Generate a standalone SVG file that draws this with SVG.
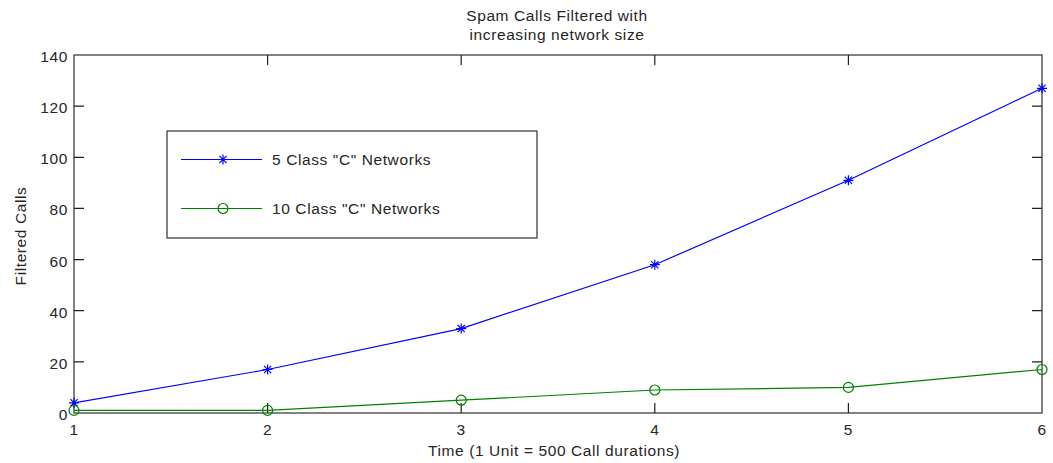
<svg xmlns="http://www.w3.org/2000/svg" width="1053" height="463" viewBox="0 0 1053 463">
  <style>
    text { font-family: "Liberation Sans", Arial, sans-serif; font-size: 15.5px; letter-spacing: 0.6px; fill: #262626; }
    .axis { fill: none; stroke: #404040; stroke-width: 1.3; }
    .tick { stroke: #202020; stroke-width: 1.2; }
    .blue { fill: none; stroke: #0000ff; stroke-width: 1.2; }
    .green { fill: none; stroke: #008000; stroke-width: 1.2; }
    .ytl { text-anchor: end; }
    .xtl { text-anchor: middle; }
  </style>
  <defs>
    <g id="star" class="blue">
      <path d="M-5,0 H5 M0,-5 V5 M-3.6,-3.6 L3.6,3.6 M-3.6,3.6 L3.6,-3.6"/>
    </g>
    <circle id="ring" r="5" class="green"/>
  </defs>

  <rect x="0" y="0" width="1053" height="463" fill="#ffffff"/>

  <!-- title -->
  <text x="557" y="21" text-anchor="middle">Spam Calls Filtered with</text>
  <text x="557" y="40" text-anchor="middle">increasing network size</text>

  <!-- axes box and ticks -->
  <g id="axes">
    <rect class="axis" x="74" y="55" width="968" height="358"/>
    <g class="tick">
      <!-- x ticks bottom / top -->
      <path d="M267.6,413 V403 M461.2,413 V403 M654.8,413 V403 M848.4,413 V403"/>
      <path d="M267.6,55 V65 M461.2,55 V65 M654.8,55 V65 M848.4,55 V65"/>
      <!-- y ticks left / right -->
      <path d="M74,361.9 H84 M74,310.7 H84 M74,259.6 H84 M74,208.4 H84 M74,157.3 H84 M74,106.2 H84"/>
      <path d="M1042,361.9 H1032 M1042,310.7 H1032 M1042,259.6 H1032 M1042,208.4 H1032 M1042,157.3 H1032 M1042,106.2 H1032"/>
    </g>
    <g class="ytl">
      <text x="68" y="420">0</text>
      <text x="68" y="369">20</text>
      <text x="68" y="318">40</text>
      <text x="68" y="267">60</text>
      <text x="68" y="215">80</text>
      <text x="68" y="164">100</text>
      <text x="68" y="113">120</text>
      <text x="68" y="62">140</text>
    </g>
    <g class="xtl">
      <text x="74" y="435">1</text>
      <text x="267.6" y="435">2</text>
      <text x="461.2" y="435">3</text>
      <text x="654.8" y="435">4</text>
      <text x="848.4" y="435">5</text>
      <text x="1042" y="435">6</text>
    </g>
    <text x="554" y="456" text-anchor="middle">Time (1 Unit = 500 Call durations)</text>
    <text transform="translate(26,236) rotate(-90)" text-anchor="middle">Filtered Calls</text>
  </g>

  <!-- data series -->
  <g id="connectors">
    <polyline id="series-5" class="blue" points="74,402.8 267.6,369.5 461.2,328.6 654.8,264.7 848.4,180.3 1042,88.3"/>
    <polyline id="series-10" class="green" points="74,410.4 267.6,410.4 461.2,400.2 654.8,390 848.4,387.4 1042,369.5"/>
  </g>

  <g id="markers-5">
    <use href="#star" x="74" y="402.8"/>
    <use href="#star" x="267.6" y="369.5"/>
    <use href="#star" x="461.2" y="328.6"/>
    <use href="#star" x="654.8" y="264.7"/>
    <use href="#star" x="848.4" y="180.3"/>
    <use href="#star" x="1042" y="88.3"/>
  </g>
  <g id="markers-10">
    <use href="#ring" x="74" y="410.4"/>
    <use href="#ring" x="267.6" y="410.4"/>
    <use href="#ring" x="461.2" y="400.2"/>
    <use href="#ring" x="654.8" y="390"/>
    <use href="#ring" x="848.4" y="387.4"/>
    <use href="#ring" x="1042" y="369.5"/>
  </g>

  <!-- legend -->
  <g id="legend">
    <rect x="167" y="131" width="370" height="107" fill="#ffffff" stroke="#404040" stroke-width="1.3"/>
    <path class="blue" d="M181,159.5 H262"/>
    <use href="#star" x="223" y="159.5"/>
    <text x="272" y="165">5 Class "C" Networks</text>
    <path class="green" d="M181,208.5 H262"/>
    <use href="#ring" x="223" y="208.5"/>
    <text x="272" y="214">10 Class "C" Networks</text>
  </g>
</svg>
